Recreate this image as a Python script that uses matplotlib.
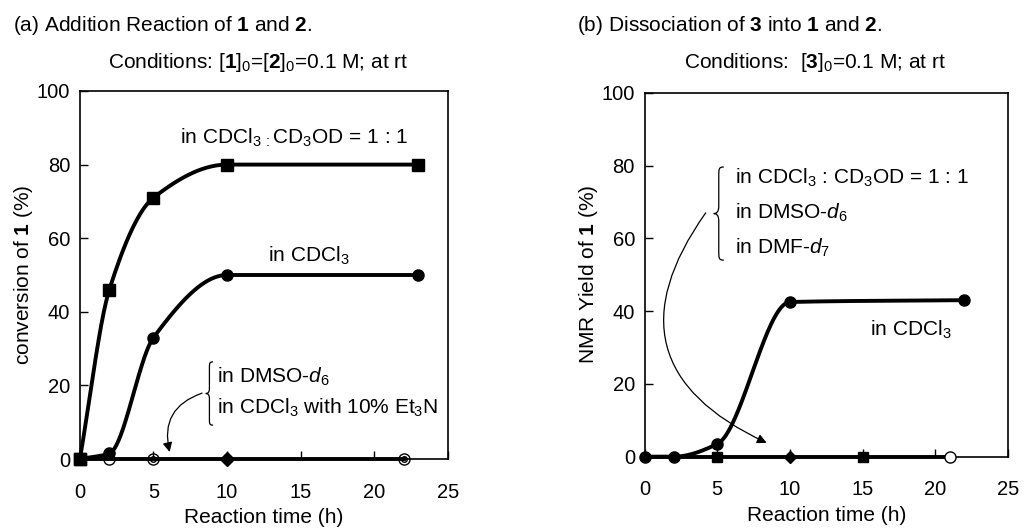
import numpy as np
import matplotlib
matplotlib.use("Agg")
import matplotlib.pyplot as plt
from matplotlib.path import Path
from matplotlib.patches import PathPatch

plt.rcParams['font.family'] = ['Liberation Sans', 'DejaVu Sans']
plt.rcParams['mathtext.fontset'] = 'custom'
plt.rcParams['mathtext.rm'] = 'Liberation Sans'
plt.rcParams['mathtext.it'] = 'Liberation Sans:italic'
plt.rcParams['mathtext.bf'] = 'Liberation Sans:bold'

# (a) addition reaction of 1 and 2
t_a_mix = [0, 2, 5, 10, 23]
y_a_mix = [0, 46, 71, 80, 80]
t_a_cdcl3 = [0, 2, 5, 10, 23]
y_a_cdcl3 = [0, 1.5, 33, 50, 50]
t_a_dmso = [0, 2, 5, 22]
y_a_dmso = [0, 0, 0, 0]
t_a_et3n = [0, 5, 10, 22]
y_a_et3n = [0, 0, 0, 0]

# (b) dissociation of 3
t_b_cdcl3 = [0, 2, 5, 10, 22]
y_b_cdcl3 = [0, 0, 3.5, 42.5, 43]
t_b_mix = [0, 5, 15]
y_b_mix = [0, 0, 0]
t_b_dmso = [0, 10]
y_b_dmso = [0, 0]
t_b_dmf = [0, 21]
y_b_dmf = [0, 0]

FS = 15
TFS = 14.5
LW = 2.8


def smooth(x, y, n=300):
    # monotone cubic hermite (Fritsch-Carlson) through the measured points
    x = np.asarray(x, float)
    y = np.asarray(y, float)
    h = np.diff(x)
    d = np.diff(y) / h
    m = np.zeros_like(y)
    m[0], m[-1] = d[0], d[-1]
    for i in range(1, len(x) - 1):
        if d[i - 1] * d[i] <= 0:
            m[i] = 0
        else:
            w1 = 2 * h[i] + h[i - 1]
            w2 = h[i] + 2 * h[i - 1]
            m[i] = (w1 + w2) / (w1 / d[i - 1] + w2 / d[i])
    xs = np.linspace(x[0], x[-1], n)
    k = np.clip(np.searchsorted(x, xs) - 1, 0, len(x) - 2)
    s = (xs - x[k]) / h[k]
    h00 = 2 * s**3 - 3 * s**2 + 1
    h10 = s**3 - 2 * s**2 + s
    h01 = -2 * s**3 + 3 * s**2
    h11 = s**3 - s**2
    ys = h00 * y[k] + h10 * h[k] * m[k] + h01 * y[k + 1] + h11 * h[k] * m[k + 1]
    return xs, ys


def brace(ax, x, y0, y1, w):
    hgt = y1 - y0
    ym = (y0 + y1) / 2
    xm = x + w / 2
    verts = [(x + w, y1), (xm, y1), (xm, y1 - 0.02 * hgt), (xm, y1 - 0.1 * hgt),
             (xm, ym + 0.08 * hgt),
             (xm, ym + 0.02 * hgt), (x + 0.3 * w, ym), (x, ym),
             (x + 0.3 * w, ym), (xm, ym - 0.02 * hgt), (xm, ym - 0.08 * hgt),
             (xm, y0 + 0.1 * hgt),
             (xm, y0 + 0.02 * hgt), (xm, y0), (x + w, y0)]
    codes = [Path.MOVETO, Path.CURVE4, Path.CURVE4, Path.CURVE4, Path.LINETO,
             Path.CURVE4, Path.CURVE4, Path.CURVE4,
             Path.CURVE4, Path.CURVE4, Path.CURVE4, Path.LINETO,
             Path.CURVE4, Path.CURVE4, Path.CURVE4]
    ax.add_patch(PathPatch(Path(verts, codes), fc='none', ec='black', lw=0.9,
                           clip_on=False))


def style(ax, ylabel):
    ax.set_xlim(0, 25)
    ax.set_ylim(0, 100)
    ax.set_xticks(range(0, 26, 5))
    ax.set_yticks(range(0, 101, 20))
    ax.tick_params(direction='in', length=6, width=1, labelsize=TFS)
    ax.tick_params(axis='x', pad=17)
    ax.tick_params(axis='y', pad=7)
    for sp in ax.spines.values():
        sp.set_linewidth(1.2)
    ax.set_xlabel('Reaction time (h)', fontsize=FS, labelpad=4.5)
    ax.set_ylabel(ylabel, fontsize=FS, labelpad=1)


fig = plt.figure(figsize=(10.24, 5.29), dpi=100)
ax1 = fig.add_axes([0.078, 0.1323, 0.3594, 0.6957])
ax2 = fig.add_axes([0.6296, 0.1367, 0.3545, 0.688])

mk = dict(color='black', clip_on=False, zorder=5)

# ---- panel (a)
ax1.plot(*smooth(t_a_mix, y_a_mix), color='black', lw=LW, clip_on=False)
ax1.plot(t_a_mix, y_a_mix, 's', ms=8, **mk)
ax1.plot(*smooth(t_a_cdcl3, y_a_cdcl3), color='black', lw=LW, clip_on=False)
ax1.plot(t_a_cdcl3, y_a_cdcl3, 'o', ms=8, **mk)
ax1.plot(t_a_dmso, y_a_dmso, color='black', lw=LW, clip_on=False)
ax1.plot(t_a_dmso[1:], y_a_dmso[1:], 'o', ms=8, mfc='none', mec='black',
         mew=1.0, clip_on=False, zorder=4)
ax1.plot(t_a_et3n[1::2], y_a_et3n[1::2], 'o', ms=4, mfc='none', mec='black',
         mew=1.0, clip_on=False, zorder=4)
ax1.plot(t_a_et3n[2], y_a_et3n[2], 'D', ms=7, **mk)
ax1.plot(t_a_mix[0], y_a_mix[0], 's', ms=8, **mk)

ax1.text(6.8, 87.3, 'in CDCl$_3$$_{\\,:}$CD$_3$OD = 1 : 1', fontsize=FS, va='center')
ax1.text(12.8, 55.3, 'in CDCl$_3$', fontsize=FS, va='center')
ax1.text(9.3, 22.3, 'in DMSO-$d_6$', fontsize=FS, va='center')
ax1.text(9.3, 13.9, 'in CDCl$_3$ with 10% Et$_3$N', fontsize=FS, va='center')
brace(ax1, 8.55, 9.2, 26.4, 0.5)
ax1.annotate('', xy=(6.1, 1.9), xytext=(8.3, 17.9),
             arrowprops=dict(arrowstyle='-|>', connectionstyle='arc3,rad=0.45',
                             lw=0.9, color='black', mutation_scale=14,
                             shrinkA=0, shrinkB=0))
style(ax1, 'conversion of $\\mathbf{1}$ (%)')

# ---- panel (b)
ax2.plot(*smooth(t_b_cdcl3, y_b_cdcl3), color='black', lw=LW, clip_on=False)
ax2.plot(t_b_cdcl3, y_b_cdcl3, 'o', ms=8, **mk)
ax2.plot(t_b_dmf, y_b_dmf, color='black', lw=LW, clip_on=False)
ax2.plot(t_b_mix[1:], y_b_mix[1:], 's', ms=7, **mk)
ax2.plot(t_b_dmso[1:], y_b_dmso[1:], 'D', ms=6, **mk)
ax2.plot(t_b_dmf[1:], y_b_dmf[1:], 'o', ms=8, mfc='white', mec='black',
         mew=1.0, clip_on=False, zorder=5)

ax2.text(6.2, 76.6, 'in CDCl$_3$ : CD$_3$OD = 1 : 1', fontsize=FS, va='center')
ax2.text(6.2, 67.0, 'in DMSO-$d_6$', fontsize=FS, va='center')
ax2.text(6.2, 57.3, 'in DMF-$d_7$', fontsize=FS, va='center')
ax2.text(15.5, 34.8, 'in CDCl$_3$', fontsize=FS, va='center')
brace(ax2, 4.75, 54.0, 79.6, 0.7)
ax2.annotate('', xy=(8.4, 3.8), xytext=(4.2, 67.0),
             arrowprops=dict(arrowstyle='-|>', connectionstyle='arc3,rad=0.6',
                             lw=0.9, color='black', mutation_scale=14,
                             shrinkA=0, shrinkB=0))
style(ax2, 'NMR Yield of $\\mathbf{1}$ (%)')

# headers
fig.text(0.0127, 0.9527, '(a) Addition Reaction of $\\mathbf{1}$ and $\\mathbf{2}$.',
         fontsize=FS, va='center')
fig.text(0.252, 0.881, 'Conditions: [$\\mathbf{1}$]$_0$=[$\\mathbf{2}$]$_0$=0.1 M; at rt',
         fontsize=FS, va='center', ha='center')
fig.text(0.5635, 0.9527, '(b) Dissociation of $\\mathbf{3}$ into $\\mathbf{1}$ and $\\mathbf{2}$.',
         fontsize=FS, va='center')
fig.text(0.796, 0.881, 'Conditions:  [$\\mathbf{3}$]$_0$=0.1 M; at rt',
         fontsize=FS, va='center', ha='center')

fig.savefig('out.png', dpi=100)
